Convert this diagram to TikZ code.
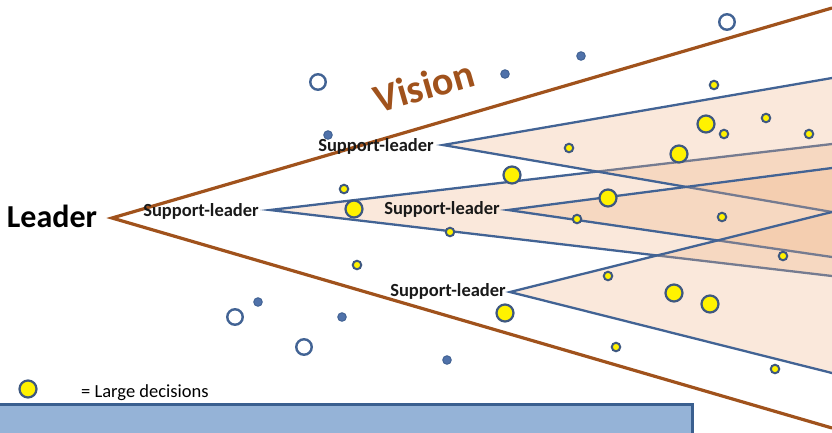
\documentclass[tikz,border=0pt]{standalone}
\usepackage{fontspec}
\setmainfont{Carlito}
\definecolor{brn}{RGB}{160,82,28}
\definecolor{bln}{RGB}{66,99,148}
\definecolor{dotbd}{RGB}{62,88,128}
\definecolor{bdf}{RGB}{80,114,170}
\definecolor{pch}{RGB}{238,180,135}
\definecolor{boxfill}{RGB}{149,179,215}
\definecolor{boxbd}{RGB}{58,95,143}
\begin{document}
\begin{tikzpicture}[x=1pt,y=-1pt,
  brownline/.style={draw=brn, line width=3.2pt, line join=miter},
  blueline/.style={draw=bln, line width=2.3pt, line join=miter},
  wedge/.style={fill=pch, fill opacity=0.3},
  ydot/.style={circle, fill=yellow, draw=dotbd, line width=2pt, inner sep=0pt, minimum size=8.5pt},
  ybig/.style={ydot, line width=2.2pt, minimum size=17pt},
  bdot/.style={circle, fill=bdf, draw=bln, line width=1pt, inner sep=0pt, minimum size=8.5pt},
  hdot/.style={circle, fill=white, draw=bln, line width=2.4pt, inner sep=0pt, minimum size=15.5pt},
  sl/.style={font=\bfseries\fontsize{18.5}{18.5}\selectfont, text=black!90, inner sep=1pt}]
\useasboundingbox (0,0) rectangle (832,432);
\clip (0,0) rectangle (832,432);

% apex points and far ends
\coordinate (a0) at (112,218);
\coordinate (a0u) at (832,8);
\coordinate (a0l) at (832,428);
\coordinate (a1) at (270,210);
\coordinate (a1u) at (832,144);
\coordinate (a1l) at (832,276);
\coordinate (a2) at (443,145);
\coordinate (a2u) at (832,78);
\coordinate (a2l) at (832,212);
\coordinate (a3) at (508,210);
\coordinate (a3u) at (832,168);
\coordinate (a3l) at (832,257);
\coordinate (a4) at (510,292);
\coordinate (a4u) at (832,212);
\coordinate (a4l) at (832,373);

% vision lines
\draw[brownline] (a0u) -- (a0) -- (a0l);

% wedges
\fill[wedge] (a1) -- (a1u) -- (a1l) -- cycle;
\draw[blueline] (a1u) -- (a1) -- (a1l);
\fill[wedge] (a2) -- (a2u) -- (a2l) -- cycle;
\draw[blueline] (a2u) -- (a2) -- (a2l);
\fill[wedge] (a3) -- (a3u) -- (a3l) -- cycle;
\draw[blueline] (a3u) -- (a3) -- (a3l);
\fill[wedge] (a4) -- (a4u) -- (a4l) -- cycle;
\draw[blueline] (a4u) -- (a4) -- (a4l);

% hollow circles
\foreach \p [count=\i] in {(318,82),(727,22),(235,317),(304,347)}
  \node[hdot] (h\i) at \p {};
% small blue dots
\foreach \p [count=\i] in {(505,74),(581,56),(328,135),(258,302),(342,317),(447,360)}
  \node[bdot] (b\i) at \p {};
% small yellow dots
\foreach \p [count=\i] in {(714,85),(766,118),(809,134),(724,134),(569,148),(344,189),(450,232),(577,219),(722,217),(357,265),(608,276),(783,256),(616,347),(775,369)}
  \node[ydot] (y\i) at \p {};
% large yellow dots
\foreach \p [count=\i] in {(706,124),(679,154),(512,175),(354,209),(608,198),(674,293),(710,304),(505,313)}
  \node[ybig] (Y\i) at \p {};

% texts
\node[font=\bfseries\fontsize{32}{32}\selectfont, text=black] (leader) at (52,216) {Leader};
\node[font=\bfseries\fontsize{40}{40}\selectfont, text=brn, rotate=16] (vision) at (424,86) {Vision};
\node[sl] (sl1) at (201,211) {Support-leader};
\node[sl] (sl2) at (376,146) {Support-leader};
\node[sl] (sl3) at (442,209) {Support-leader};
\node[sl] (sl4) at (448,291) {Support-leader};

% legend
\node[ybig] (leg) at (28,389) {};
\node[anchor=west, font=\fontsize{18.5}{18.5}\selectfont, text=black, inner sep=0pt] (legtxt) at (81,393) {= Large decisions};

% bottom box
\draw[fill=boxfill, draw=boxbd, line width=3pt] (-5,404) rectangle (692.5,445);
\end{tikzpicture}
\end{document}
